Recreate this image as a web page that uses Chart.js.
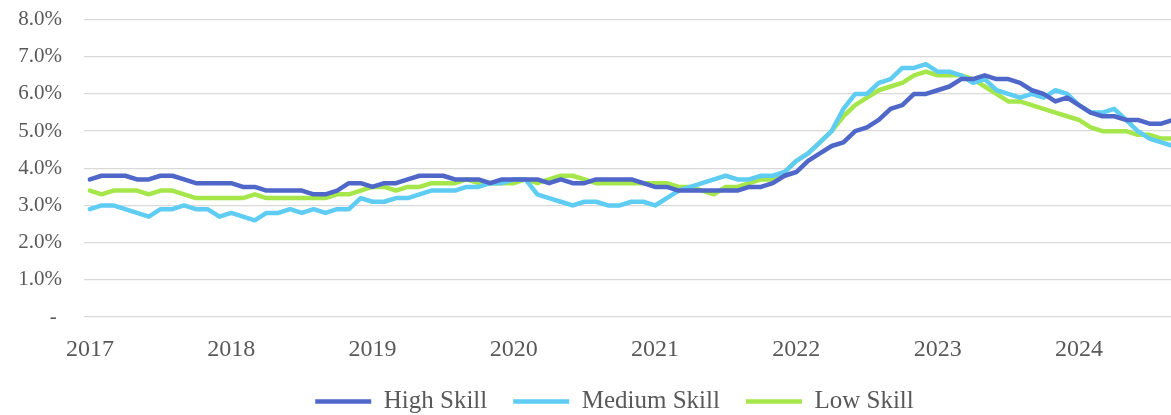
<!DOCTYPE html>
<html>
<head>
<meta charset="utf-8">
<script src="https://cdn.jsdelivr.net/npm/chart.js@4.4.1/dist/chart.umd.min.js"></script>
<style>
  html, body { margin: 0; padding: 0; background: #fff; overflow: hidden; }
  #wrap { width: 1171px; height: 415px; overflow: hidden; }
  /* the reference is a crop: the chart runs on past the right edge */
  #skillChart { display: block; margin-top: -15px; }
</style>
</head>
<body>
<div id="wrap"><canvas id="skillChart" width="1179" height="439"></canvas></div>
<script>
// Years shown on the x axis, one category per month (Jan 2017 - Sep 2024)
const years = ["2017", "2018", "2019", "2020", "2021", "2022", "2023", "2024"];
const monthsInLastYear = 9;

// Rates in percent
const highSkill = [
  3.7, 3.8, 3.8, 3.8, 3.7, 3.7, 3.8, 3.8, 3.7, 3.6, 3.6, 3.6,
  3.6, 3.5, 3.5, 3.4, 3.4, 3.4, 3.4, 3.3, 3.3, 3.4, 3.6, 3.6,
  3.5, 3.6, 3.6, 3.7, 3.8, 3.8, 3.8, 3.7, 3.7, 3.7, 3.6, 3.7,
  3.7, 3.7, 3.7, 3.6, 3.7, 3.6, 3.6, 3.7, 3.7, 3.7, 3.7, 3.6,
  3.5, 3.5, 3.4, 3.4, 3.4, 3.4, 3.4, 3.4, 3.5, 3.5, 3.6, 3.8,
  3.9, 4.2, 4.4, 4.6, 4.7, 5.0, 5.1, 5.3, 5.6, 5.7, 6.0, 6.0,
  6.1, 6.2, 6.4, 6.4, 6.5, 6.4, 6.4, 6.3, 6.1, 6.0, 5.8, 5.9,
  5.7, 5.5, 5.4, 5.4, 5.3, 5.3, 5.2, 5.2, 5.3
];
const mediumSkill = [
  2.9, 3.0, 3.0, 2.9, 2.8, 2.7, 2.9, 2.9, 3.0, 2.9, 2.9, 2.7,
  2.8, 2.7, 2.6, 2.8, 2.8, 2.9, 2.8, 2.9, 2.8, 2.9, 2.9, 3.2,
  3.1, 3.1, 3.2, 3.2, 3.3, 3.4, 3.4, 3.4, 3.5, 3.5, 3.6, 3.6,
  3.7, 3.7, 3.3, 3.2, 3.1, 3.0, 3.1, 3.1, 3.0, 3.0, 3.1, 3.1,
  3.0, 3.2, 3.4, 3.5, 3.6, 3.7, 3.8, 3.7, 3.7, 3.8, 3.8, 3.9,
  4.2, 4.4, 4.7, 5.0, 5.6, 6.0, 6.0, 6.3, 6.4, 6.7, 6.7, 6.8,
  6.6, 6.6, 6.5, 6.3, 6.4, 6.1, 6.0, 5.9, 6.0, 5.9, 6.1, 6.0,
  5.7, 5.5, 5.5, 5.6, 5.3, 5.0, 4.8, 4.7, 4.6
];
const lowSkill = [
  3.4, 3.3, 3.4, 3.4, 3.4, 3.3, 3.4, 3.4, 3.3, 3.2, 3.2, 3.2,
  3.2, 3.2, 3.3, 3.2, 3.2, 3.2, 3.2, 3.2, 3.2, 3.3, 3.3, 3.4,
  3.5, 3.5, 3.4, 3.5, 3.5, 3.6, 3.6, 3.6, 3.7, 3.6, 3.6, 3.6,
  3.6, 3.7, 3.6, 3.7, 3.8, 3.8, 3.7, 3.6, 3.6, 3.6, 3.6, 3.6,
  3.6, 3.6, 3.5, 3.5, 3.4, 3.3, 3.5, 3.5, 3.6, 3.7, 3.7, 3.9,
  4.2, 4.4, 4.7, 5.0, 5.4, 5.7, 5.9, 6.1, 6.2, 6.3, 6.5, 6.6,
  6.5, 6.5, 6.5, 6.4, 6.2, 6.0, 5.8, 5.8, 5.7, 5.6, 5.5, 5.4,
  5.3, 5.1, 5.0, 5.0, 5.0, 4.9, 4.9, 4.8, 4.8
];

// y-axis tick values (percent)
const yTicks = [0, 1, 2, 3, 4, 5, 6, 7, 8];

// build the monthly category labels, e.g. "2019-01"
const labels = [];
years.forEach((year, i) => {
  const count = i === years.length - 1 ? monthsInLastYear : 12;
  for (let m = 1; m <= count; m++) {
    labels.push(year + "-" + String(m).padStart(2, "0"));
  }
});

const serif = "'Palatino Linotype', 'Book Antiqua', Palatino, 'Liberation Serif', serif";
const textColor = "#595959";

const makeSeries = (label, data, color) => ({
  label: label,
  data: data,
  borderColor: color,
  backgroundColor: color,
  borderWidth: 4.5,
  borderCapStyle: "round",
  borderJoinStyle: "round",
  pointRadius: 0,
  pointHoverRadius: 0,
  pointStyle: "line",
  tension: 0,
});

// move the legend a bit to the right, like the original
const legendShift = {
  id: "legendShift",
  afterLayout: (chart) => {
    chart.legend.left += 25;
    chart.legend.right += 25;
  },
};

new Chart(document.querySelector("#skillChart"), {
  type: "line",
  data: {
    labels: labels,
    datasets: [
      makeSeries("High Skill", highSkill, "#4E67C8"),
      makeSeries("Medium Skill", mediumSkill, "#5ECCF3"),
      makeSeries("Low Skill", lowSkill, "#A5E64B"),
    ],
  },
  plugins: [legendShift],
  options: {
    responsive: false,
    animation: false,
    layout: { padding: { top: 8, left: 0, right: 0, bottom: 0 } },
    scales: {
      x: {
        offset: true,
        grid: { display: false },
        border: { display: false },
        afterFit: (scale) => {
          scale.height = 46;
        },
        ticks: {
          autoSkip: false,
          maxRotation: 0,
          padding: 10,
          color: textColor,
          font: { family: serif, size: 24 },
          callback: function (value) {
            const lab = this.getLabelForValue(value);
            // only January gets the year printed
            return lab.endsWith("-01") ? lab.slice(0, 4) : null;
          },
        },
      },
      y: {
        min: yTicks[0],
        max: yTicks[yTicks.length - 1],
        afterBuildTicks: (scale) => {
          scale.ticks = yTicks.map((v) => ({ value: v }));
        },
        afterFit: (scale) => {
          scale.width = 84; // plot starts at x=84
        },
        grid: { color: "#D9D9D9", lineWidth: 1.3, drawTicks: false },
        border: { display: false },
        ticks: {
          padding: 22,
          color: textColor,
          font: { family: serif, size: 21 },
          callback: (value) => (value === 0 ? "- " : value.toFixed(1) + "%"),
        },
      },
    },
    plugins: {
      tooltip: { enabled: false },
      legend: {
        position: "bottom",
        labels: {
          usePointStyle: true,
          pointStyleWidth: 56,
          padding: 26,
          color: textColor,
          font: { family: serif, size: 25 },
        },
      },
    },
  },
});
</script>
</body>
</html>
